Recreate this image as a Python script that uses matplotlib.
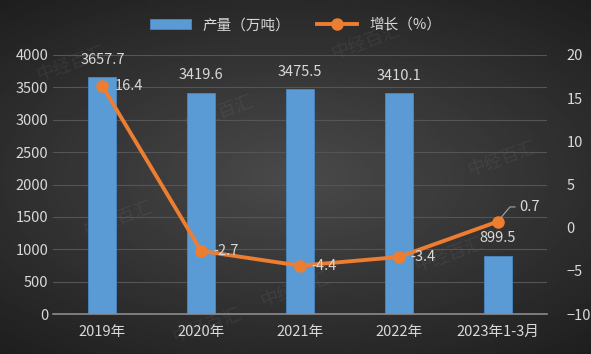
import matplotlib.pyplot as plt
import numpy as np

plt.rcParams['font.family'] = ['Noto Sans CJK SC', 'DejaVu Sans']

years = ["2019年", "2020年", "2021年", "2022年", "2023年1-3月"]
output = [3657.7, 3419.6, 3475.5, 3410.1, 899.5]
growth = [16.4, -2.7, -4.4, -3.4, 0.7]

txt = '#d9d9d9'
fig = plt.figure(figsize=(5.91, 3.54), dpi=100)

# radial dark background
bg = fig.add_axes([0, 0, 1, 1], zorder=-10)
yy, xx = np.mgrid[-1:1:200j, -1:1:300j]
r = np.sqrt((xx * 0.85) ** 2 + (yy * 1.0) ** 2)
shade = np.clip(0.29 - 0.13 * r, 0.1, 1)
bg.imshow(shade, cmap='gray', vmin=0, vmax=1, aspect='auto', extent=[0, 1, 0, 1])
bg.axis('off')

# faint watermarks
for (wx, wy) in [(0.12, 0.82), (0.37, 0.68), (0.62, 0.88), (0.85, 0.55), (0.2, 0.38),
                 (0.5, 0.18), (0.76, 0.28), (0.35, 0.08)]:
    bg.text(wx, wy, "中经百汇", color='white', alpha=0.06, fontsize=13, rotation=20,
            ha='center', va='center', transform=bg.transAxes)

ax = fig.add_axes([53 / 591, 40 / 354, 494 / 591, 259 / 354])
ax.patch.set_alpha(0)
x = np.arange(len(years))
bars = ax.bar(x, output, width=0.285, color='#5b9bd5', edgecolor='#4a88c4', linewidth=0.6, zorder=2,
              label="产量（万吨）")
ax.set_ylim(0, 4000)
ax.set_yticks(range(0, 4001, 500))
ax.set_xlim(-0.5, 4.5)
ax.set_xticks(x)
ax.set_xticklabels(years)
ax.grid(axis='y', color='#555555', linewidth=0.8, zorder=0)
for s in ['top', 'right', 'left']:
    ax.spines[s].set_visible(False)
ax.spines['bottom'].set_color('#8c8c8c')
ax.spines['bottom'].set_linewidth(1.2)
ax.tick_params(colors=txt, length=0, labelsize=10.5)
ax.tick_params(axis='x', pad=8)
for xi, v in zip(x, output):
    ax.text(xi, v + 160, f"{v}", ha='center', va='bottom', color=txt, fontsize=10.5)

ax2 = ax.twinx()
ax2.set_ylim(-10, 20)
ax2.set_yticks(range(-10, 21, 5))
line, = ax2.plot(x, growth, color='#ed7d31', linewidth=2.8, marker='o', markersize=8,
                 zorder=3, label="增长（%）")
for s in ax2.spines.values():
    s.set_visible(False)
ax2.tick_params(colors=txt, length=0, labelsize=10.5, pad=14)
for xi, v in zip(x[:4], growth[:4]):
    ax2.text(xi + 0.12, v, f"{v}", ha='left', va='center', color=txt, fontsize=10.5)
ax2.annotate(f"{growth[4]}", xy=(x[4], growth[4]), xytext=(x[4] + 0.22, growth[4] + 1.7),
             ha='left', va='center', color=txt, fontsize=10.5,
             arrowprops=dict(arrowstyle='-', color='#a6a6a6', lw=0.8,
                             connectionstyle='angle,angleA=0,angleB=50,rad=0', shrinkA=1, shrinkB=4))

leg = fig.legend(handles=[bars, line], loc='upper center', bbox_to_anchor=(0.5, 0.985), ncol=2,
                 frameon=False, fontsize=10.5, labelcolor=txt, handlelength=2.8, columnspacing=1.8)

fig.savefig('out.png', dpi=100)
